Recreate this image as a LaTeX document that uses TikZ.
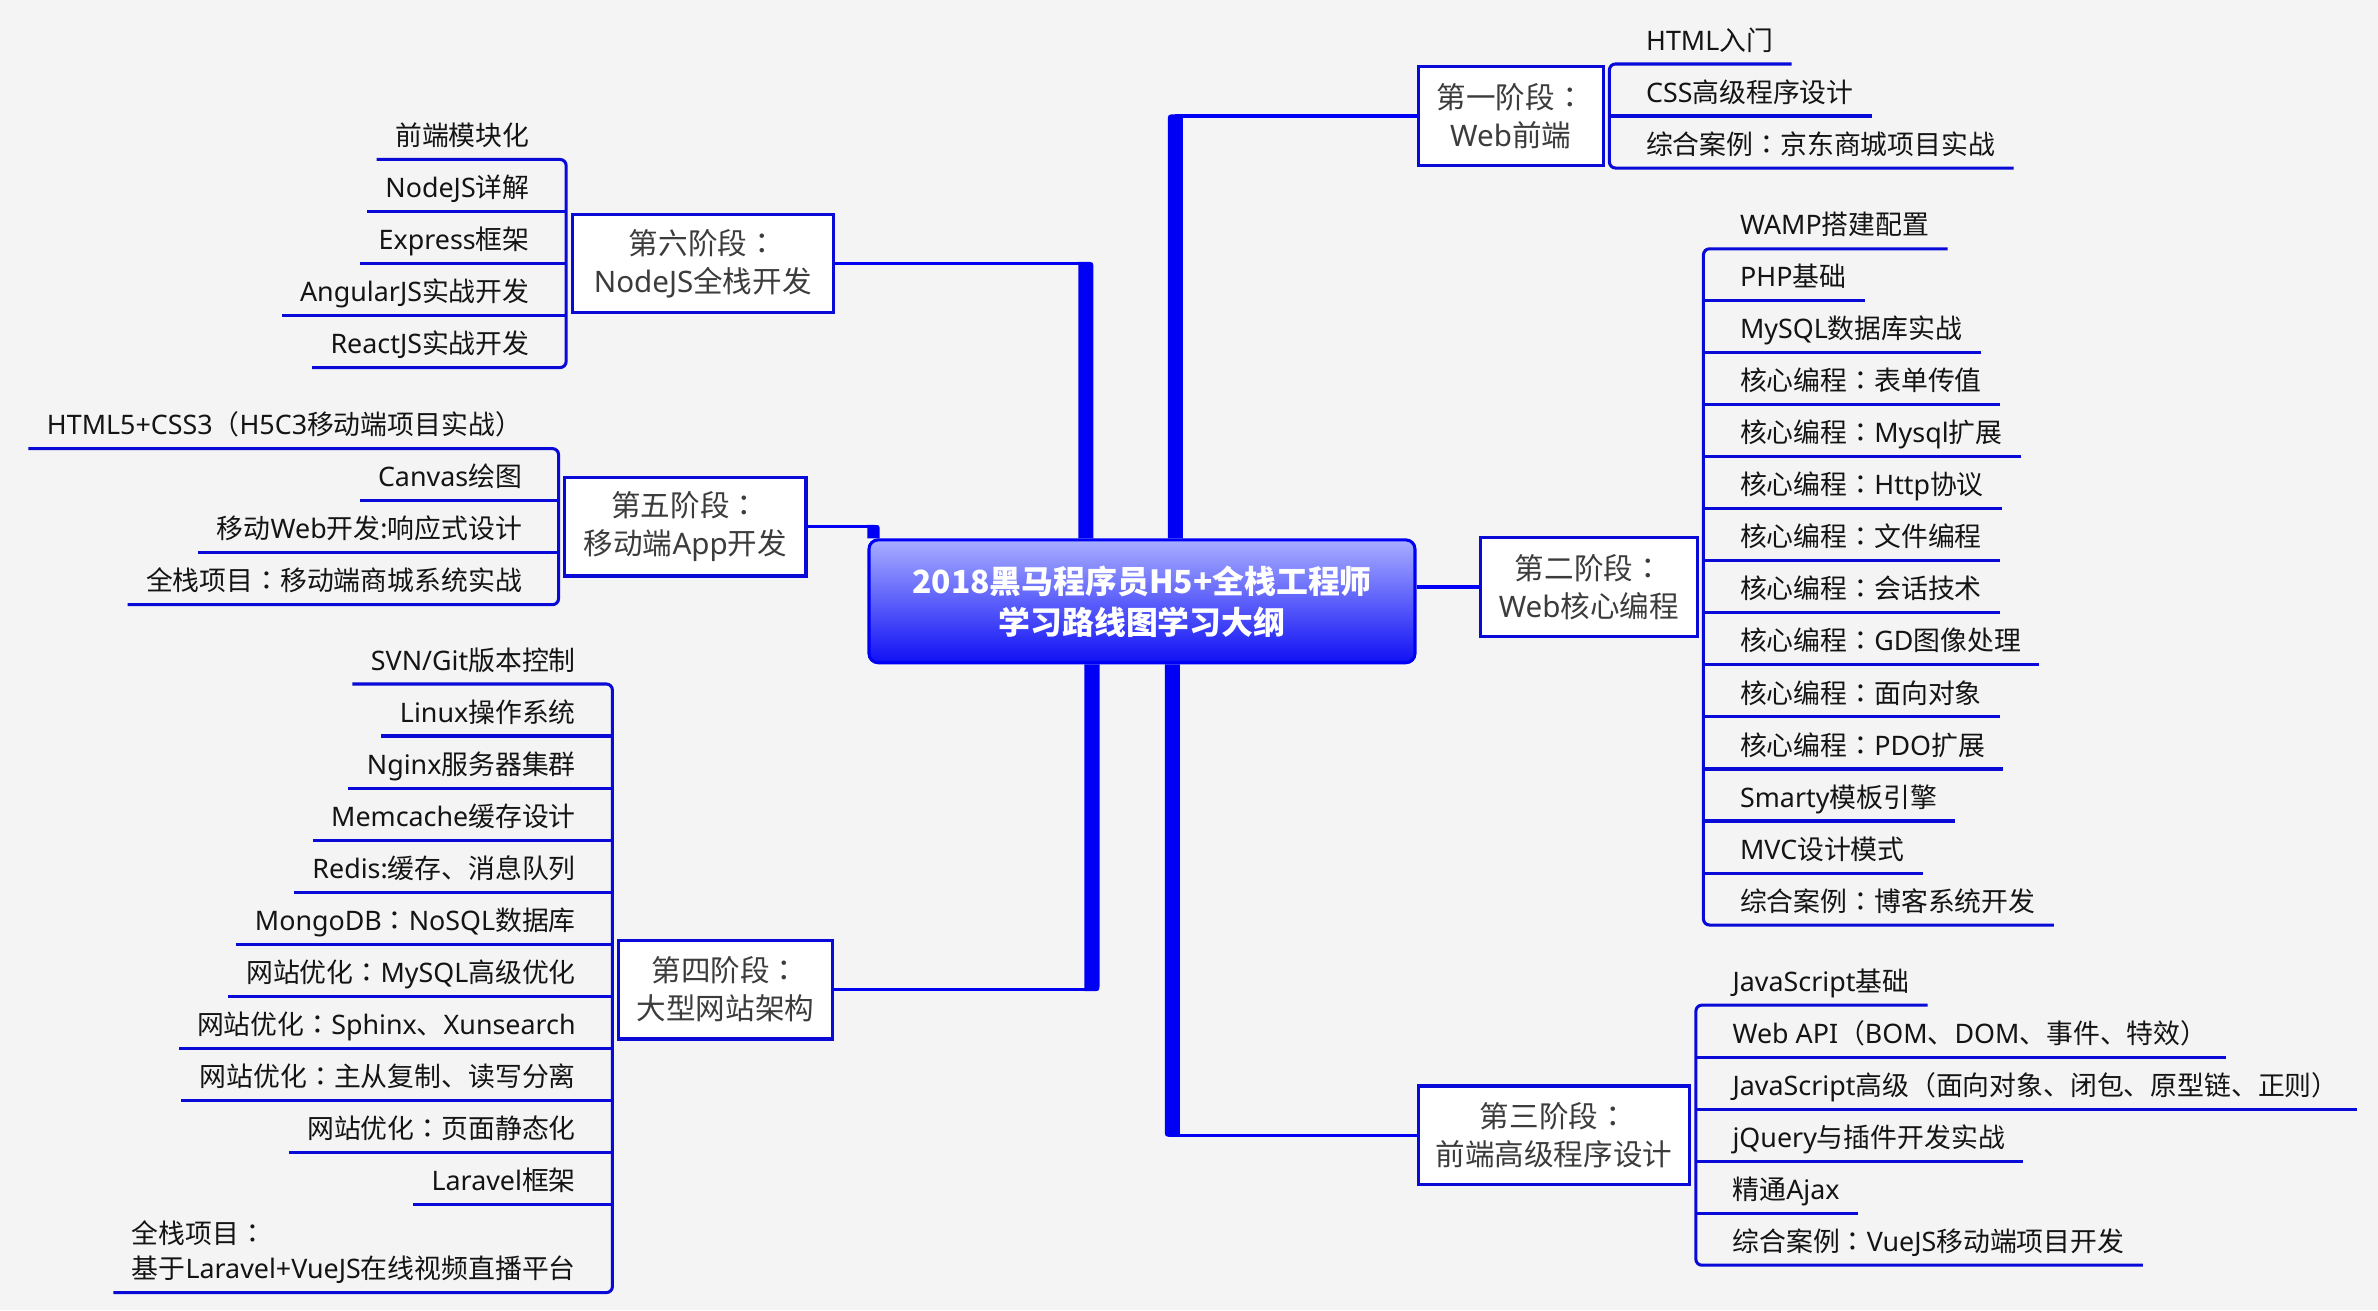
\documentclass[tikz,border=0pt]{standalone}
\usepackage{fontspec}
\usepackage{xcolor}
\usepackage{tikz}
\usetikzlibrary{calc}
\setmainfont{Noto Sans}
\newfontfamily\cjkfont{Noto Sans CJK SC}
\newfontfamily\colonfont{Noto Sans CJK TC}
\newfontfamily\latinfont{Noto Sans}
% Han characters and full-width punctuation are set in the CJK face
\XeTeXinterchartokenstate=1
\newXeTeXintercharclass\cjkclass
\newXeTeXintercharclass\colonclass
\newcount\cjkcode
\def\cjkrange#1#2{\cjkcode=#1 \loop\XeTeXcharclass\cjkcode=\cjkclass \ifnum\cjkcode<#2 \advance\cjkcode by 1 \repeat}
\cjkrange{"3000}{"303F}
\cjkrange{"4E00}{"9FFF}
\cjkrange{"FF00}{"FFEF}
\XeTeXcharclass"FF1A=\colonclass
\XeTeXinterchartoks 0 \cjkclass = {\cjkfont}
\XeTeXinterchartoks 4095 \cjkclass = {\cjkfont}
\XeTeXinterchartoks \colonclass \cjkclass = {\cjkfont}
\XeTeXinterchartoks \cjkclass 0 = {\latinfont}
\XeTeXinterchartoks \colonclass 0 = {\latinfont}
\XeTeXinterchartoks 4095 0 = {\latinfont}
\XeTeXinterchartoks \cjkclass \colonclass = {\colonfont}
\XeTeXinterchartoks 0 \colonclass = {\colonfont}
\XeTeXinterchartoks 4095 \colonclass = {\colonfont}
\definecolor{bg}{HTML}{F4F4F4}
\definecolor{wire}{HTML}{0000F5}
\definecolor{twigc}{HTML}{0A0AD8}
\definecolor{ink}{HTML}{141414}
\definecolor{soft}{HTML}{3C3C3C}
\definecolor{glow}{HTML}{A8AEFF}
\definecolor{deep}{HTML}{1010F5}
\tikzset{
  root/.style={draw=wire, line width=2pt, rounded corners=6pt, top color=glow, bottom color=deep,
    text=white, font=\fontsize{21}{27}\selectfont\bfseries\let\latinfont\cjkfont, align=center,
    minimum width=360pt, minimum height=81pt, inner sep=0pt},
  stage/.style={draw=twigc, line width=2.2pt, fill=white, text=soft, font=\fontsize{19.5}{25}\selectfont,
    align=center, minimum height=65pt, inner xsep=8pt, inner ysep=0pt},
  leaf/.style={text=ink, font=\fontsize{17.7}{23.2}\selectfont, inner xsep=12pt, inner ysep=9pt, text depth=0pt},
  leafr/.style={leaf, anchor=south west},
  leafl/.style={leaf, anchor=south east},
  twig/.style={draw=twigc, line width=2pt},
  link/.style={draw=wire, line width=2.2pt},
  trunk/.style={fill=wire},
}

\begin{document}
\begin{tikzpicture}[x=1pt, y=-1pt]
  \useasboundingbox (0,0) rectangle (1568,863.8);
  \fill[bg] (0,0) rectangle (1568,863.8);

  \node[root] (root) at (753,396.5) {2018黑马程序员H5+全栈工程师\\学习路线图学习大纲};

  \node[stage, anchor=west, minimum width=122pt] (s1) at (934,76.5) {第一阶段：\\Web前端};
  \node[stage, anchor=west, minimum width=143pt] (s2) at (975,387) {第二阶段：\\Web核心编程};
  \node[stage, anchor=west, minimum width=179pt] (s3) at (934,748.5) {第三阶段：\\前端高级程序设计};
  \node[stage, anchor=east, minimum width=141pt] (s4) at (550,652.5) {第四阶段：\\大型网站架构};
  \node[stage, anchor=east, minimum width=159pt] (s5) at (532.5,347.25) {第五阶段：\\移动端App开发};
  \node[stage, anchor=east, minimum width=172pt] (s6) at (550.5,173.75) {第六阶段：\\NodeJS全栈开发};

  % elbows of the main branches
  \coordinate (e1) at (775,76.5);
  \coordinate (e3) at (773,748.5);
  \coordinate (e4) at (720,652.5);
  \coordinate (e5) at (576,347.25);
  \coordinate (e6) at (716,173.75);

  \fill[trunk] ($(root.north -| e1)+(-5,0)$) -- ($(e1)+(-5,3.9)$) .. controls ($(e1)+(-5,-1.1)$) .. ($(e1)+(0,-1.1)$)
    -- ($(e1)+(5,-1.1)$) -- ($(root.north -| e1)+(5,0)$) -- cycle;
  \fill[trunk] ($(root.north -| e6)+(5,0)$) -- ($(e6)+(5,3.9)$) .. controls ($(e6)+(5,-1.1)$) .. ($(e6)+(0,-1.1)$)
    -- ($(e6)+(-5,-1.1)$) -- ($(root.north -| e6)+(-5,0)$) -- cycle;
  \fill[trunk] ($(root.south -| e4)+(5,0)$) -- ($(e4)+(5,-3.9)$) .. controls ($(e4)+(5,1.1)$) .. ($(e4)+(0,1.1)$)
    -- ($(e4)+(-5,1.1)$) -- ($(root.south -| e4)+(-5,0)$) -- cycle;
  \fill[trunk] ($(root.south -| e3)+(-5,0)$) -- ($(e3)+(-5,-3.9)$) .. controls ($(e3)+(-5,1.1)$) .. ($(e3)+(0,1.1)$)
    -- ($(e3)+(5,1.1)$) -- ($(root.south -| e3)+(5,0)$) -- cycle;
  \fill[trunk] ($(root.north -| e5)+(4,0)$) -- ($(e5)+(4,2.9)$) .. controls ($(e5)+(4,-1.1)$) .. ($(e5)+(0,-1.1)$)
    -- ($(e5)+(-4,-1.1)$) -- ($(root.north -| e5)+(-4,0)$) -- cycle;

  \draw[link] (e1) -- (s1.west);
  \draw[link] (root.east |- s2.west) -- (s2.west);
  \draw[link] (e3) -- (s3.west);
  \draw[link] (e4) -- (s4.east);
  \draw[link] (e5) -- (s5.east);
  \draw[link] (e6) -- (s6.east);

  % spines of the topic lists
  \coordinate (l1) at ([xshift=3pt]s1.east);
  \coordinate (l2) at ([xshift=3pt]s2.east);
  \coordinate (l3) at ([xshift=3pt]s3.east);
  \coordinate (l4) at ([xshift=-3pt]s4.west);
  \coordinate (l5) at ([xshift=-3pt]s5.west);
  \coordinate (l6) at ([xshift=-3pt]s6.west);

  \foreach \t [count=\i] in {HTML入门,CSS高级程序设计,综合案例：京东商城项目实战}
    \node[leafr] (a\i) at ($(l1)+(12,{(\i-2)*34.3})$) {\t};
  \draw[twig, rounded corners=4pt] (a1.south east) -- (a1.south -| l1) -- (a3.south -| l1) -- (a3.south east);
  \draw[twig] (a2.south -| l1) -- (a2.south east);

  \foreach \t [count=\i] in {WAMP搭建配置,PHP基础,MySQL数据库实战,核心编程：表单传值,核心编程：Mysql扩展,%
      核心编程：Http协议,核心编程：文件编程,核心编程：会话技术,核心编程：GD图像处理,核心编程：面向对象,%
      核心编程：PDO扩展,Smarty模板引擎,MVC设计模式,综合案例：博客系统开发}
    \node[leafr] (b\i) at ($(l2)+(12,{(\i-7.5)*34.3})$) {\t};
  \draw[twig, rounded corners=4pt] (b1.south east) -- (b1.south -| l2) -- (b14.south -| l2) -- (b14.south east);
  \foreach \i in {2,...,13}
    \draw[twig] (b\i.south -| l2) -- (b\i.south east);

  \foreach \t [count=\i] in {JavaScript基础,Web API（BOM、DOM、事件、特效）,%
      JavaScript高级（面向对象、闭包、原型链、正则）,jQuery与插件开发实战,精通Ajax,综合案例：VueJS移动端项目开发}
    \node[leafr] (c\i) at ($(l3)+(12,{(\i-3.5)*34.3})$) {\t};
  \draw[twig, rounded corners=4pt] (c1.south east) -- (c1.south -| l3) -- (c6.south -| l3) -- (c6.south east);
  \foreach \i in {2,...,5}
    \draw[twig] (c\i.south -| l3) -- (c\i.south east);

  \foreach \t [count=\i] in {SVN/Git版本控制,Linux操作系统,Nginx服务器集群,Memcache缓存设计,Redis:缓存、消息队列,%
      MongoDB：NoSQL数据库,网站优化：MySQL高级优化,网站优化：Sphinx、Xunsearch,网站优化：主从复制、读写分离,%
      网站优化：页面静态化,Laravel框架}
    \node[leafl] (d\i) at ($(l4)+(-12,{(\i-1)*34.3-201.5})$) {\t};
  \node[leafl, align=left] (d12) at ($(l4)+(-12,199.8)$) {全栈项目：\\基于Laravel+VueJS在线视频直播平台};
  \draw[twig, rounded corners=4pt] (d1.south west) -- (d1.south -| l4) -- (d12.south -| l4) -- (d12.south west);
  \foreach \i in {2,...,11}
    \draw[twig] (d\i.south -| l4) -- (d\i.south west);

  \foreach \t [count=\i] in {HTML5+CSS3（H5C3移动端项目实战）,Canvas绘图,移动Web开发:响应式设计,全栈项目：移动端商城系统实战}
    \node[leafl] (f\i) at ($(l5)+(-12,{(\i-2.5)*34.3})$) {\t};
  \draw[twig, rounded corners=4pt] (f1.south west) -- (f1.south -| l5) -- (f4.south -| l5) -- (f4.south west);
  \foreach \i in {2,3}
    \draw[twig] (f\i.south -| l5) -- (f\i.south west);

  \foreach \t [count=\i] in {前端模块化,NodeJS详解,Express框架,AngularJS实战开发,ReactJS实战开发}
    \node[leafl] (g\i) at ($(l6)+(-12,{(\i-3)*34.3})$) {\t};
  \draw[twig, rounded corners=4pt] (g1.south west) -- (g1.south -| l6) -- (g5.south -| l6) -- (g5.south west);
  \foreach \i in {2,...,4}
    \draw[twig] (g\i.south -| l6) -- (g\i.south west);
\end{tikzpicture}
\end{document}
